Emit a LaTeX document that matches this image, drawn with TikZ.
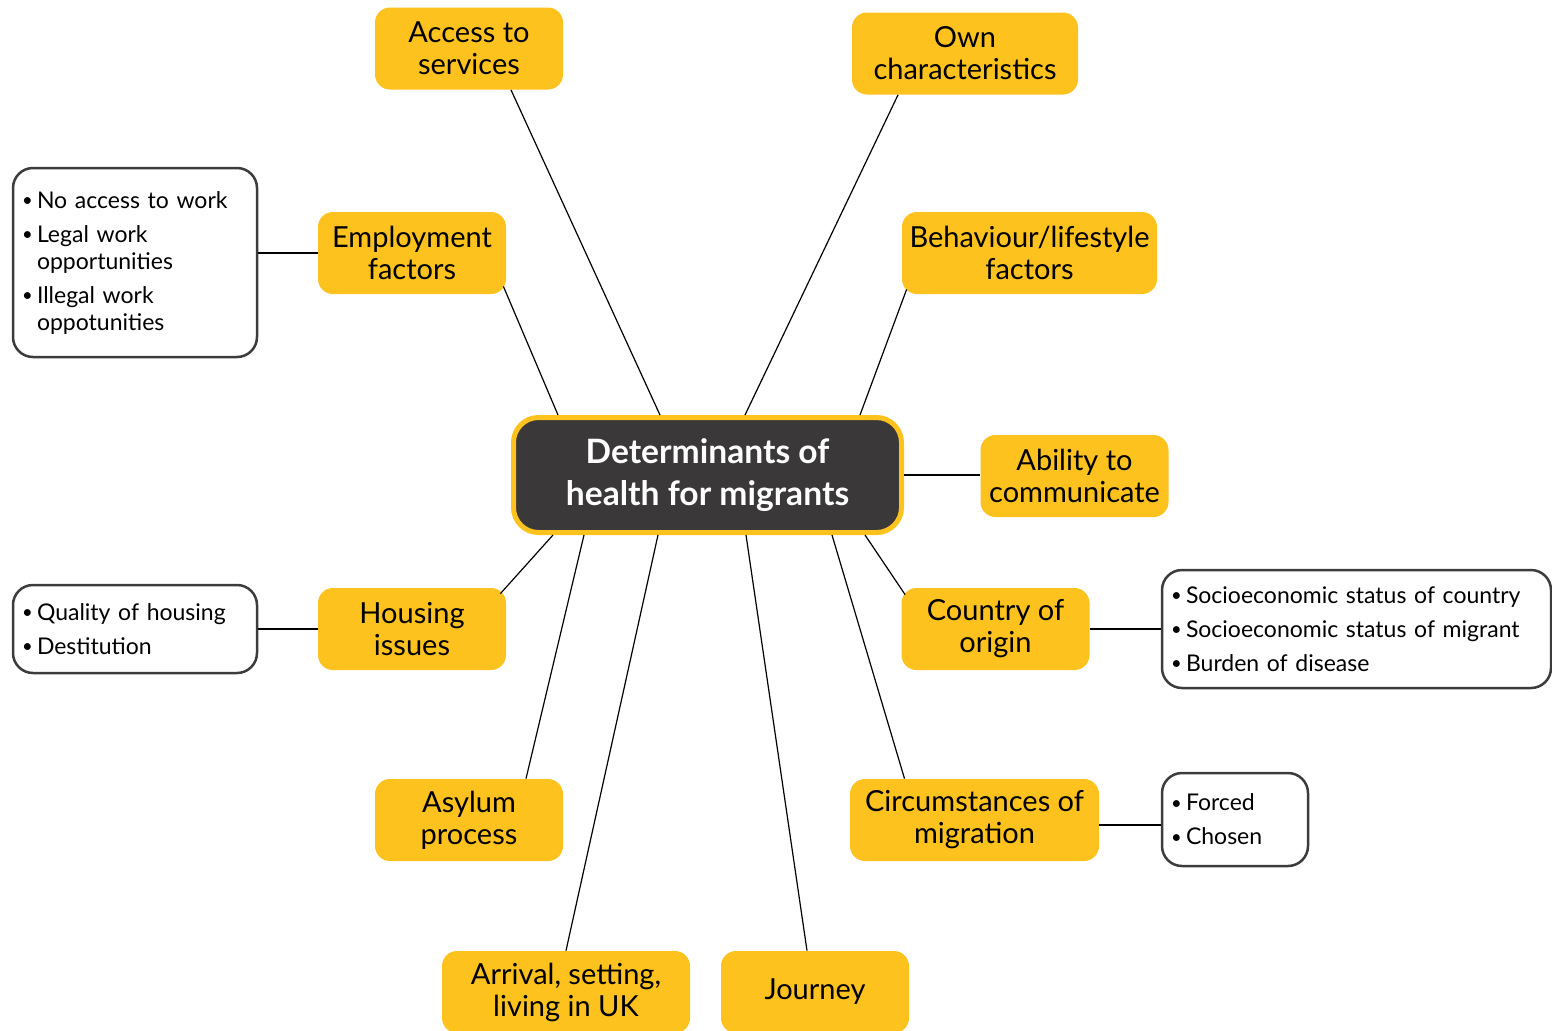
\documentclass[tikz,border=0pt]{standalone}
\usepackage{fontspec}
\usepackage{graphicx}
\setmainfont{Lato}
\usetikzlibrary{calc}
\definecolor{ybox}{HTML}{FDC21D}
\definecolor{dark}{HTML}{3A3839}
\definecolor{wline}{HTML}{3C3C3C}
\newcommand\mybul{\makebox[7.5pt][l]{\raisebox{0.12ex}{\scalebox{0.8}{\textbullet}}}}
\newcommand\myind{\hspace*{7.5pt}}
\begin{document}
\begin{tikzpicture}[x=0.5pt,y=-0.5pt,
  ybox/.style={fill=ybox,rounded corners=7.5pt,minimum height=41pt,align=center,
    inner sep=2pt,font=\fontsize{14.5}{16}\selectfont},
  wbox/.style={draw=wline,line width=1.25pt,rounded corners=10pt,fill=white,align=left,
    inner xsep=4.5pt,font=\fontsize{11.5}{13.5}\selectfont},
  conn/.style={line width=0.6pt,black}]
\useasboundingbox (0,0) rectangle (1552,1030);
% centre
\node[fill=dark,draw=ybox,line width=2.5pt,rounded corners=12.5pt,minimum width=194pt,minimum height=57.5pt,
  text=white,align=center,font=\fontsize{16.8}{21}\selectfont\bfseries] (ctr) at (707.5,475)
  {Determinants of\\health for migrants};
% yellow boxes
\node[ybox,minimum width=94pt] (acc) at (469,48.5) {Access to\\services};
\node[ybox,minimum width=113pt] (own) at (965,53.5) {Own\\characteristics};
\node[ybox,minimum width=94pt] (emp) at (412,253) {Employment\\factors};
\node[ybox,minimum width=127.5pt] (beh) at (1029.5,253) {Behaviour/lifestyle\\factors};
\node[ybox,minimum width=94pt] (abl) at (1074.5,476) {Ability to\\communicate};
\node[ybox,minimum width=94pt] (hou) at (412,629) {Housing\\issues};
\node[ybox,minimum width=94pt] (cou) at (995.5,629) {Country of\\origin};
\node[ybox,minimum width=94pt] (asy) at (469,820) {Asylum\\process};
\node[ybox,minimum width=124.5pt] (cir) at (974.5,820) {Circumstances of\\migration};
\node[ybox,minimum width=124pt] (arr) at (566,992) {Arrival, setting,\\living in UK};
\node[ybox,minimum width=94pt] (jou) at (815,992) {Journey};
% white boxes
\node[wbox,text width=113pt,minimum height=94.5pt] (empw) at (135,262.5)
  {\mybul No access to work\\[3.5pt]
   \mybul Legal work\\\myind opportunities\\[3.5pt]
   \mybul Illegal work\\\myind oppotunities};
\node[wbox,text width=113pt,minimum height=44pt] (houw) at (135,629)
  {\mybul Quality of housing\\[3.5pt]\mybul Destitution};
\node[wbox,text width=185.5pt,minimum height=59pt] (couw) at (1356.5,629)
  {\mybul Socioeconomic status of country\\[3.5pt]
   \mybul Socioeconomic status of migrant\\[3.5pt]
   \mybul Burden of disease};
\node[wbox,text width=64pt,minimum height=46.5pt] (cirw) at (1235,819.5)
  {\mybul Forced\\[3.5pt]\mybul Chosen};
% connectors
\draw[conn] ($(acc.south)+(42,0)$) -- ($(ctr.north)+(-47.5,0)$);
\draw[conn] ($(own.south)+(-67,0)$) -- ($(ctr.north)+(37.5,0)$);
\draw[conn] ($(emp.south east)+(-3,-8)$) -- ($(ctr.north)+(-149.5,0)$);
\draw[conn] ($(beh.south west)+(5,-5)$) -- ($(ctr.north)+(152.5,0)$);
\draw[conn] (ctr.east) -- (ctr.east -| abl.west);
\draw[conn] ($(ctr.south)+(-154.5,0)$) -- ($(hou.north east)+(-6,6)$);
\draw[conn] ($(ctr.south)+(157.5,0)$) -- ($(cou.north west)+(4,7)$);
\draw[conn] ($(ctr.south)+(124.5,0)$) -- ($(cir.north)+(-70,0)$);
\draw[conn] ($(ctr.south)+(-123.5,0)$) -- ($(asy.north)+(57,0)$);
\draw[conn] ($(ctr.south)+(-49.5,0)$) -- (arr.north);
\draw[conn] ($(ctr.south)+(38.5,0)$) -- ($(jou.north)+(-8,0)$);
\draw[conn] (emp.west) -- (emp.west -| empw.east);
\draw[conn] (hou.west) -- (hou.west -| houw.east);
\draw[conn] (cou.east) -- (cou.east -| couw.west);
\draw[conn] ($(cir.east)+(0,5)$) -- ($(cir.east -| cirw.west)+(0,5)$);
\end{tikzpicture}
\end{document}
